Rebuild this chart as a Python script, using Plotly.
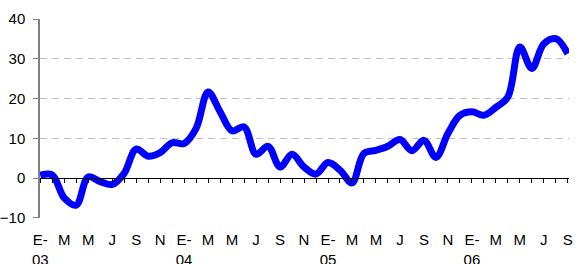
import plotly.graph_objects as go

months = ["E", "F", "M", "A", "M", "J", "J", "A", "S", "O", "N", "D"]
years = ["03", "04", "05", "06"]

values = [0.7, 0.8, -5.0, -6.8, 0.3, -0.9, -1.6, 1.2, 7.3, 5.5,
          6.4, 8.9, 8.7, 12.5, 21.7, 16.7, 11.9, 12.9, 6.0, 8.0,
          2.8, 6.0, 2.8, 1.0, 3.9, 2.0, -1.2, 6.2, 7.0, 8.0,
          9.7, 6.9, 9.5, 5.2, 11.2, 15.8, 16.7, 15.8, 17.8, 20.4,
          33.0, 27.6, 33.8, 35.1, 31.3]

n = len(values)
x_idx = list(range(n))
tick_vals = list(range(0, n, 2))
tick_text = []
for i in tick_vals:
    m = months[i % 12]
    if i % 12 == 0:
        tick_text.append(m + "-<br>" + years[i // 12])
    else:
        tick_text.append(m)

y_ticks = [-10, 0, 10, 20, 30, 40]
y_range = [-10.05, 40.05]
x_range = [-0.02, 44.1]

fig = go.Figure()
fig.add_trace(go.Scatter(
    x=x_idx, y=values, mode="lines",
    line=dict(color="#0000FF", width=7, shape="spline", smoothing=1.0),
    hoverinfo="skip", showlegend=False,
))
# invisible trace for the month tick axis on the zero line
fig.add_trace(go.Scatter(
    x=x_idx, y=[0] * n, xaxis="x2", yaxis="y", mode="lines",
    line=dict(color="rgba(0,0,0,0)", width=0), hoverinfo="skip", showlegend=False,
))

font = dict(family="Liberation Sans, Arial, sans-serif", size=15, color="#000000")

fig.update_layout(
    width=576, height=264,
    margin=dict(l=40, r=7, t=19, b=46, autoexpand=False),
    paper_bgcolor="white", plot_bgcolor="white",
    font=font,
    xaxis=dict(
        range=x_range, tickmode="array", tickvals=tick_vals, ticktext=tick_text,
        showgrid=False, zeroline=False, showline=False, ticks="",
        ticklabelstandoff=11, tickfont=font, automargin=False,
        ticklabeloverflow="allow",
    ),
    xaxis2=dict(
        range=x_range, overlaying="x", anchor="free",
        position=(0 - y_range[0]) / (y_range[1] - y_range[0]),
        side="bottom", showline=True, linecolor="#000000", linewidth=1,
        ticks="outside", ticklen=4, tickwidth=1, tickcolor="#000000",
        tickmode="linear", tick0=0, dtick=1, showticklabels=False,
        showgrid=False, zeroline=False, automargin=False,
    ),
    yaxis=dict(
        range=y_range, tickmode="array", tickvals=y_ticks,
        showgrid=True, gridcolor="#c0c0c0", gridwidth=1, griddash="7px,5px",
        zeroline=False, showline=True, linecolor="#808080", linewidth=1.5,
        ticks="outside", ticklen=5, tickcolor="#808080", tickwidth=1,
        tickfont=font, automargin=False, ticklabelstandoff=5,
    ),
)

fig.write_html(
    "out.html",
    config={"displayModeBar": False},
    post_script="document.body.style.margin='0';document.body.style.padding='0';",
)
